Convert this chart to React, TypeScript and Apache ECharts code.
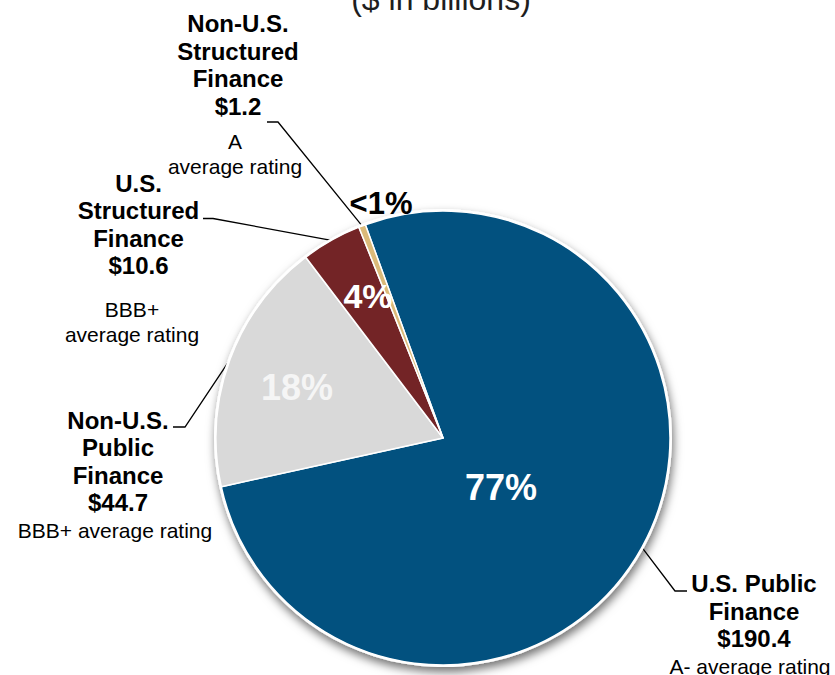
import React, { useEffect, useRef } from 'react';
import * as echarts from 'echarts';

const titleText = '($ in billions)';
const categories = [
  'U.S. Public Finance',
  'Non-U.S. Public Finance',
  'U.S. Structured Finance',
  'Non-U.S. Structured Finance',
];
const nameLines = [
  ['U.S. Public', 'Finance'],
  ['Non-U.S.', 'Public', 'Finance'],
  ['U.S.', 'Structured', 'Finance'],
  ['Non-U.S.', 'Structured', 'Finance'],
];
const values = [190.4, 44.7, 10.6, 1.2];
const ratingLines = [
  ['A- average rating'],
  ['BBB+ average rating'],
  ['BBB+', 'average rating'],
  ['A', 'average rating'],
];

const FONT = '"Liberation Sans", Arial, Helvetica, sans-serif';
const sliceColors = ['#02517f', '#d9d9d9', '#732426', '#dbba79'];
const pctStyles = [
  { fontSize: 36, color: '#ffffff' },
  { fontSize: 36, color: '#f5f5f5' },
  { fontSize: 34, color: '#ffffff' },
  { fontSize: 31, color: '#000000' },
];
const CX = 443;
const CY = 438;
const R = 227;
const START_ANGLE = 110;
const outerLayout = [
  { x: 754, top: 570, gap: 1, ratingShift: 4, bend: [675, 591], end: [687, 591] },
  { x: 118, top: 406.3, gap: 1.25, ratingShift: 3, bend: [185, 427], end: [173, 427] },
  { x: 138.5, top: 169.7, gap: 17.75, ratingShift: 6.5, bend: [213, 218.5], end: [203, 218.5] },
  { x: 238, top: 9.75, gap: 9.25, ratingShift: 3, bend: [278, 122], end: [267, 122] },
];
const pctLayout = [
  [501, 487],
  [297, 387],
  [368, 296],
  [381, 203],
];

export default function App() {
  const ref = useRef<HTMLDivElement>(null);

  useEffect(() => {
    if (!ref.current) return;
    const chart = echarts.init(ref.current, undefined, { renderer: 'svg' });
    const total = values.reduce((a, b) => a + b, 0);

    const rich: any = {
      b: {
        fontFamily: FONT,
        fontSize: 24,
        fontWeight: 'bold',
        lineHeight: 27.5,
        color: '#000',
        align: 'center',
      },
    };
    outerLayout.forEach((L, i) => {
      rich['r' + i] = {
        fontFamily: FONT,
        fontSize: 21,
        lineHeight: 25,
        color: '#000',
        align: 'center',
        padding: [0, 2 * L.ratingShift, 0, 0],
      };
      rich['s' + i] = { fontFamily: FONT, fontSize: 1, lineHeight: L.gap, align: 'center' };
    });

    const pRich: any = {};
    pctStyles.forEach((s, i) => {
      pRich['p' + i] = {
        fontFamily: FONT,
        fontSize: s.fontSize,
        fontWeight: 'bold',
        color: s.color,
        align: 'center',
      };
    });

    const data = categories.map((name, i) => ({
      name,
      value: values[i],
      itemStyle: { color: sliceColors[i] },
    }));

    chart.setOption({
      animation: false,
      backgroundColor: '#ffffff',
      graphic: [
        {
          type: 'text',
          x: 441,
          y: -1,
          silent: true,
          style: {
            text: titleText,
            fontFamily: FONT,
            fontSize: 32,
            fill: '#1e1e1e',
            align: 'center',
            verticalAlign: 'middle',
          },
        },
      ],
      series: [
        {
          type: 'pie',
          name: 'backdrop',
          silent: true,
          center: [CX, CY],
          radius: R + 2,
          startAngle: START_ANGLE,
          data: [{ name: 'Total', value: total }],
          itemStyle: {
            color: '#ffffff',
            shadowBlur: 10,
            shadowOffsetX: 1.5,
            shadowOffsetY: 5,
            shadowColor: 'rgba(0,0,0,0.55)',
          },
          label: { show: false },
          labelLine: { show: false },
          emphasis: { disabled: true },
        },
        {
          type: 'pie',
          name: 'Portfolio',
          silent: true,
          center: [CX, CY],
          radius: R,
          startAngle: START_ANGLE,
          clockwise: true,
          avoidLabelOverlap: false,
          data,
          itemStyle: { borderColor: '#ffffff', borderWidth: 1.5 },
          label: {
            show: true,
            position: 'outside',
            width: 240,
            fontFamily: FONT,
            color: '#000',
            formatter: (p: any) => {
              const i = p.dataIndex;
              const bold = [...nameLines[i], '$' + values[i].toFixed(1)]
                .map((t) => `{b|${t}}`)
                .join('\n');
              const rating = ratingLines[i].map((t) => `{r${i}|${t}}`).join('\n');
              return `${bold}\n{s${i}|\u00a0}\n${rating}`;
            },
            rich,
          },
          labelLine: {
            show: true,
            length: 10,
            length2: 10,
            lineStyle: { color: '#000', width: 1.3 },
          },
          labelLayout: (p: any) => {
            const i = p.dataIndex;
            const L = outerLayout[i];
            let start = p.labelLinePoints && p.labelLinePoints[0];
            if (!start) {
              const v0 = values.slice(0, i).reduce((a, b) => a + b, 0);
              const mid = ((v0 + values[i] / 2) / total) * 360;
              const ang = ((START_ANGLE - mid) * Math.PI) / 180;
              start = [CX + R * Math.cos(ang), CY - R * Math.sin(ang)];
            }
            return {
              x: L.x,
              y: L.top,
              align: 'center',
              verticalAlign: 'top',
              labelLinePoints: [start, L.bend, L.end],
            };
          },
          emphasis: { disabled: true },
        },
        {
          type: 'pie',
          name: 'Share',
          silent: true,
          center: [CX, CY],
          radius: R,
          startAngle: START_ANGLE,
          clockwise: true,
          avoidLabelOverlap: false,
          data: categories.map((name, i) => ({ name, value: values[i] })),
          itemStyle: { color: 'rgba(0,0,0,0)', borderWidth: 0 },
          label: {
            show: true,
            position: 'inside',
            formatter: (p: any) => {
              const i = p.dataIndex;
              const txt = p.percent < 1 ? '<1%' : Math.round(p.percent) + '%';
              return `{p${i}|${txt}}`;
            },
            rich: pRich,
          },
          labelLine: { show: false },
          labelLayout: (p: any) => {
            const pos = pctLayout[p.dataIndex];
            return { x: pos[0], y: pos[1], align: 'center', verticalAlign: 'middle' };
          },
          emphasis: { disabled: true },
        },
      ],
    });

    return () => chart.dispose();
  }, []);

  return (
    <div
      ref={ref}
      style={{ position: 'absolute', left: 0, top: 0, width: 835, height: 675 }}
    />
  );
}
